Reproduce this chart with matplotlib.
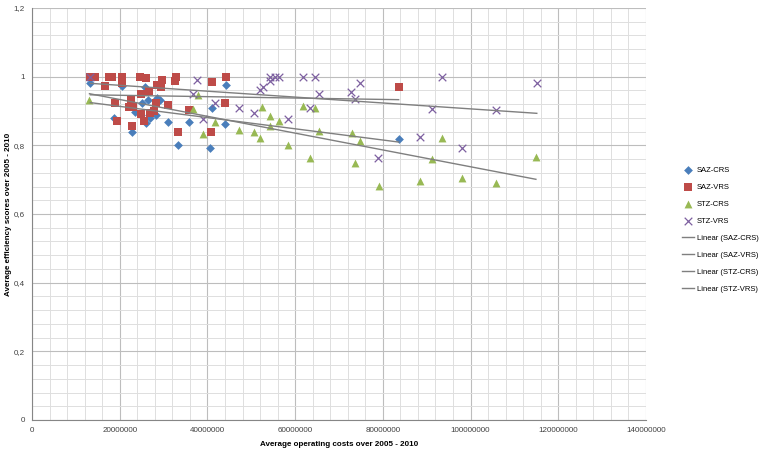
import numpy as np
import matplotlib
matplotlib.use("Agg")
import matplotlib.pyplot as plt
from matplotlib.ticker import MultipleLocator, FuncFormatter

plt.rcParams['font.family'] = ['Liberation Sans', 'DejaVu Sans']

# costs in millions, scores
saz_crs_x = [13.3, 20.6, 25.7, 26.4, 25.1, 28.5, 29.1, 18.7, 23.4, 24.8, 25.9,
             27.0, 28.2, 22.9, 30.9, 35.9, 41.0, 44.0, 44.2, 33.2, 40.6, 83.6]
saz_crs_y = [0.981, 0.972, 0.971, 0.933, 0.924, 0.939, 0.931, 0.879, 0.898, 0.889, 0.865,
             0.879, 0.889, 0.839, 0.867, 0.867, 0.908, 0.863, 0.977, 0.801, 0.793, 0.819]

saz_vrs_x = [13.3, 14.3, 17.6, 18.3, 20.6, 20.6, 24.6, 25.9, 29.7, 32.8, 32.5, 28.5,
             29.3, 16.6, 26.6, 24.9, 22.5, 18.9, 22.1, 23.0, 28.2, 30.9, 35.9, 27.0,
             27.8, 24.9, 25.5, 19.3, 22.9, 33.3, 40.8, 41.0, 44.0, 44.2, 83.6]
saz_vrs_y = [1.0, 1.0, 1.0, 0.998, 0.998, 0.981, 1.0, 0.996, 0.99, 0.998, 0.986, 0.977,
             0.971, 0.972, 0.958, 0.949, 0.936, 0.924, 0.912, 0.912, 0.924, 0.917, 0.903, 0.895,
             0.901, 0.89, 0.87, 0.87, 0.857, 0.84, 0.84, 0.984, 0.924, 1.0, 0.971]

stz_crs_x = [13.1, 37.8, 36.7, 41.7, 39.1, 47.2, 50.6, 51.9, 52.5, 54.3, 54.3, 56.3,
             58.3, 61.9, 64.6, 65.5, 63.5, 73.0, 74.9, 73.7, 79.1, 88.5, 91.2, 93.4,
             98.0, 105.9, 114.9]
stz_crs_y = [0.933, 0.946, 0.905, 0.867, 0.833, 0.844, 0.839, 0.822, 0.912, 0.886, 0.855, 0.870,
             0.80, 0.914, 0.910, 0.843, 0.763, 0.836, 0.812, 0.749, 0.681, 0.696, 0.760, 0.822,
             0.706, 0.690, 0.767]

stz_vrs_x = [13.3, 37.7, 36.7, 41.7, 47.2, 39.1, 50.6, 51.9, 52.7, 54.2, 54.3, 55.3,
             56.3, 58.3, 61.9, 64.5, 65.5, 74.9, 72.8, 73.6, 63.4, 78.9, 88.5, 91.2,
             93.4, 98.0, 105.9, 115.1]
stz_vrs_y = [1.0, 0.99, 0.949, 0.924, 0.910, 0.876, 0.893, 0.96, 0.97, 1.0, 0.987, 1.0,
             1.0, 0.876, 1.0, 1.0, 0.95, 0.981, 0.955, 0.934, 0.91, 0.763, 0.824, 0.905,
             1.0, 0.793, 0.903, 0.981]

series = [
    ("SAZ-CRS", saz_crs_x, saz_crs_y, "D", "#4A7EBB", 20),
    ("SAZ-VRS", saz_vrs_x, saz_vrs_y, "s", "#BE4B48", 30),
    ("STZ-CRS", stz_crs_x, stz_crs_y, "^", "#98B954", 32),
    ("STZ-VRS", stz_vrs_x, stz_vrs_y, "x", "#7D60A0", 30),
]

fig = plt.figure(figsize=(7.61, 4.51), dpi=100)
ax = fig.add_axes([32 / 761, 1 - 420 / 451, 614 / 761, 412 / 451])

ax.set_xlim(0, 140e6)
ax.set_ylim(0, 1.2)
ax.xaxis.set_major_locator(MultipleLocator(20e6))
ax.xaxis.set_minor_locator(MultipleLocator(4e6))
ax.yaxis.set_major_locator(MultipleLocator(0.2))
ax.yaxis.set_minor_locator(MultipleLocator(0.04))
ax.grid(True, which="major", color="#bdbdbd", lw=0.8)
ax.grid(True, which="minor", color="#dedede", lw=0.7)
ax.set_axisbelow(True)
for s in ["top", "right"]:
    ax.spines[s].set_visible(False)
for s in ["left", "bottom"]:
    ax.spines[s].set_color("#868686")
    ax.spines[s].set_linewidth(0.8)
ax.tick_params(which="both", length=0, labelsize=5.8, colors="#404040", pad=5)
ax.xaxis.set_major_formatter(FuncFormatter(lambda v, p: "%d" % round(v)))
ax.yaxis.set_major_formatter(FuncFormatter(lambda v, p: ("%g" % round(v, 2)).replace(".", ",")))

handles = []
for name, xs, ys, m, c, sz in series:
    xs = np.array(xs) * 1e6
    h = ax.scatter(xs, ys, marker=m, s=sz, color=c, linewidths=0.9 if m == "x" else 0,
                   label=name, zorder=3)
    handles.append(h)

for name, xs, ys, m, c, sz in series:
    xs = np.array(xs) * 1e6
    k, b = np.polyfit(xs, ys, 1)
    xx = np.array([xs.min(), xs.max()])
    h, = ax.plot(xx, k * xx + b, color="#7f7f7f", lw=1.0, label="Linear (%s)" % name, zorder=4)
    handles.append(h)

ax.set_xlabel("Average operating costs over 2005 - 2010", fontsize=5.8, fontweight="bold", labelpad=5)
ax.set_ylabel("Average efficiency scores over 2005 - 2010", fontsize=5.8, fontweight="bold")
ax.yaxis.set_label_coords(-0.033, 0.5)

fig.legend(handles=handles, loc="upper left", bbox_to_anchor=(679 / 761, 1 - 164 / 451),
           frameon=False, fontsize=5.5, labelspacing=1.25, handlelength=1.5,
           handletextpad=0.4, borderaxespad=0, scatterpoints=1)

fig.savefig("out.png", dpi=100)
